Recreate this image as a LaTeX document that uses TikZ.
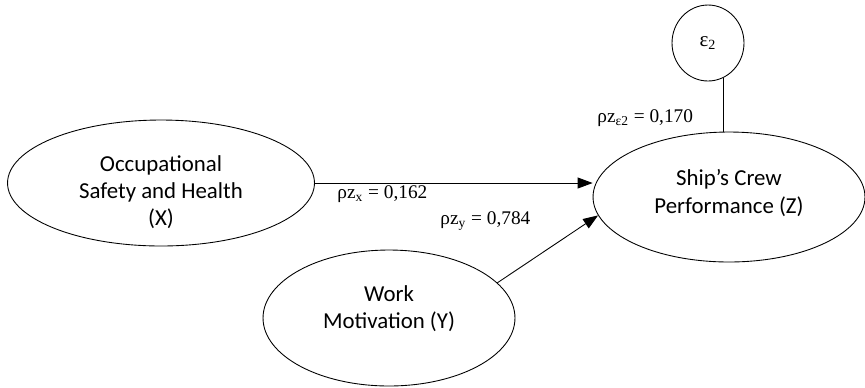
\documentclass[tikz,border=0pt]{standalone}
\usepackage{fontspec}
\setmainfont{Liberation Serif}
\newfontfamily\calibri{Carlito}
\usetikzlibrary{shapes.geometric,arrows.meta}

\begin{document}
\begin{tikzpicture}[
        x=0.02cm, y=-0.02cm,
        var-elm/.style = {draw, ellipse, inner sep=0pt},
        var-txt/.style = {align=center, inner sep=0pt, font=\calibri\fontsize{13}{15.5}\selectfont},
        coef/.style = {anchor=west, inner sep=0pt, font=\fontsize{11}{13}\selectfont},
        >={Triangle[length=3mm,width=2.2mm]},
        line width=0.5pt
      ]
        \useasboundingbox (0,0) rectangle (865,387);

        \node[var-elm, minimum width=6.14cm, minimum height=2.52cm,
              label={[var-txt,yshift=-0.18cm]center:Occupational\\Safety and Health\\(X)}] (X) at (161,183) {};
        \node[var-elm, minimum width=5.04cm, minimum height=2.72cm,
              label={[var-txt,yshift=0.18cm]center:Work\\Motivation (Y)}] (Y) at (389,318) {};
        \node[var-elm, minimum width=5.44cm, minimum height=2.6cm,
              label={[var-txt,yshift=0.08cm]center:Ship’s Crew\\Performance (Z)}] (Z) at (729,197) {};
        \node[var-elm, minimum width=1.44cm, minimum height=1.52cm, font=\fontsize{12}{14}\selectfont] (eps) at (708,43) {ε\textsubscript{2}};

        \draw[->] (X.east) -- (X.east -| Z.west);
        \draw[->] (Y.18) -- (Z.188);
        \draw (eps.-66) -- (eps.-66 |- Z.north);

        \node[coef] (cx) at (337,194) {ρz\textsubscript{x} = 0,162};
        \node[coef] (cy) at (440,221) {ρz\textsubscript{y} = 0,784};
        \node[coef] (ce) at (597,118) {ρz\textsubscript{ε2} = 0,170};
      \end{tikzpicture}
\end{document}
